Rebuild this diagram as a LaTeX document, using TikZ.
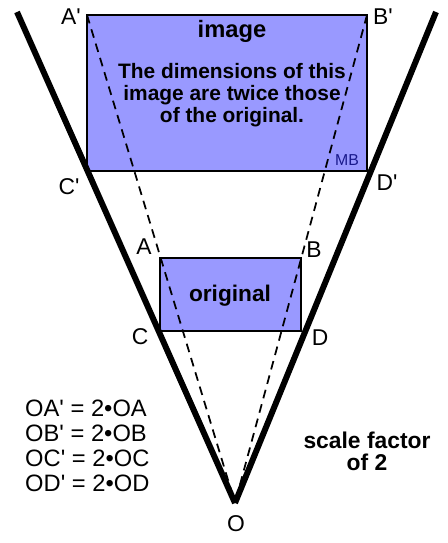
\documentclass[tikz,border=0pt]{standalone}
\usepackage{fontspec}
\setmainfont{Liberation Sans}
\usetikzlibrary{positioning}
\definecolor{shade}{RGB}{153,153,255}
\definecolor{markblue}{RGB}{25,25,140}
\newcommand{\pr}{\textquotesingle}

\begin{document}
\begin{tikzpicture}[x=0.02cm,y=-0.02cm,
    ray/.style={line width=3.4pt},
    proj/.style={dash pattern=on 5pt off 3.5pt,line width=1pt},
    figbox/.style={fill=shade,draw=black,line width=1pt},
    lbl/.style={font=\fontsize{13}{15}\selectfont},
    title/.style={font=\bfseries\fontsize{13.5}{15}\selectfont}]
    \useasboundingbox (0,0) rectangle (447,543);

    % points
    \coordinate (O) at (235,503);
    \coordinate (Ltop) at (17,12);
    \coordinate (Rtop) at (436,12);
    \coordinate (Ap) at (87,15);
    \coordinate (Bp) at (367,15);
    \coordinate (Cp) at (87,171);
    \coordinate (Dp) at (367,171);
    \coordinate (A) at (160,258);
    \coordinate (B) at (301,258);
    \coordinate (C) at (160,331);
    \coordinate (D) at (301,331);

    \draw[figbox] (Ap) rectangle (Dp);
    \draw[figbox] (A) rectangle (D);

    \draw[ray] (Ltop) -- (O);
    \draw[ray] (Rtop) -- (O);
    \draw[proj] (Ap) -- (O);
    \draw[proj] (Bp) -- (O);

    \node[lbl] (labAp) at (71,17) {A\pr};
    \node[lbl] (labBp) at (383,17) {B\pr};
    \node[lbl] (labCp) at (69,187) {C\pr};
    \node[lbl] (labDp) at (387,183) {D\pr};
    \node[lbl] (labA) at (144,247) {A};
    \node[lbl] (labB) at (314,250) {B};
    \node[lbl] (labC) at (140,337) {C};
    \node[lbl] (labD) at (320,338) {D};
    \node[lbl] (labO) at (236,524) {O};

    \node[title] (imgname) at (232,31) {image};
    \node[align=center,font=\bfseries\fontsize{11.9}{12.5}\selectfont]
      (note) at (232,95) {The dimensions of this\\image are twice those\\of the original.};
    \node[font=\fontsize{9}{10}\selectfont,text=markblue] (mark) at (347,160) {MB};
    \node[font=\bfseries\fontsize{12.9}{15}\selectfont] (orgname) at (230,296) {original};

    \node[align=left,anchor=west,font=\fontsize{13.5}{14.2}\selectfont]
      (eqs) at (19,446) {OA\pr{} = 2\textbullet OA\\OB\pr{} = 2\textbullet OB\\OC\pr{} = 2\textbullet OC\\OD\pr{} = 2\textbullet OD};
    \node[align=center,font=\bfseries\fontsize{13}{12.5}\selectfont]
      (factor) at (367,451) {scale factor\\of 2};
\end{tikzpicture}
\end{document}
